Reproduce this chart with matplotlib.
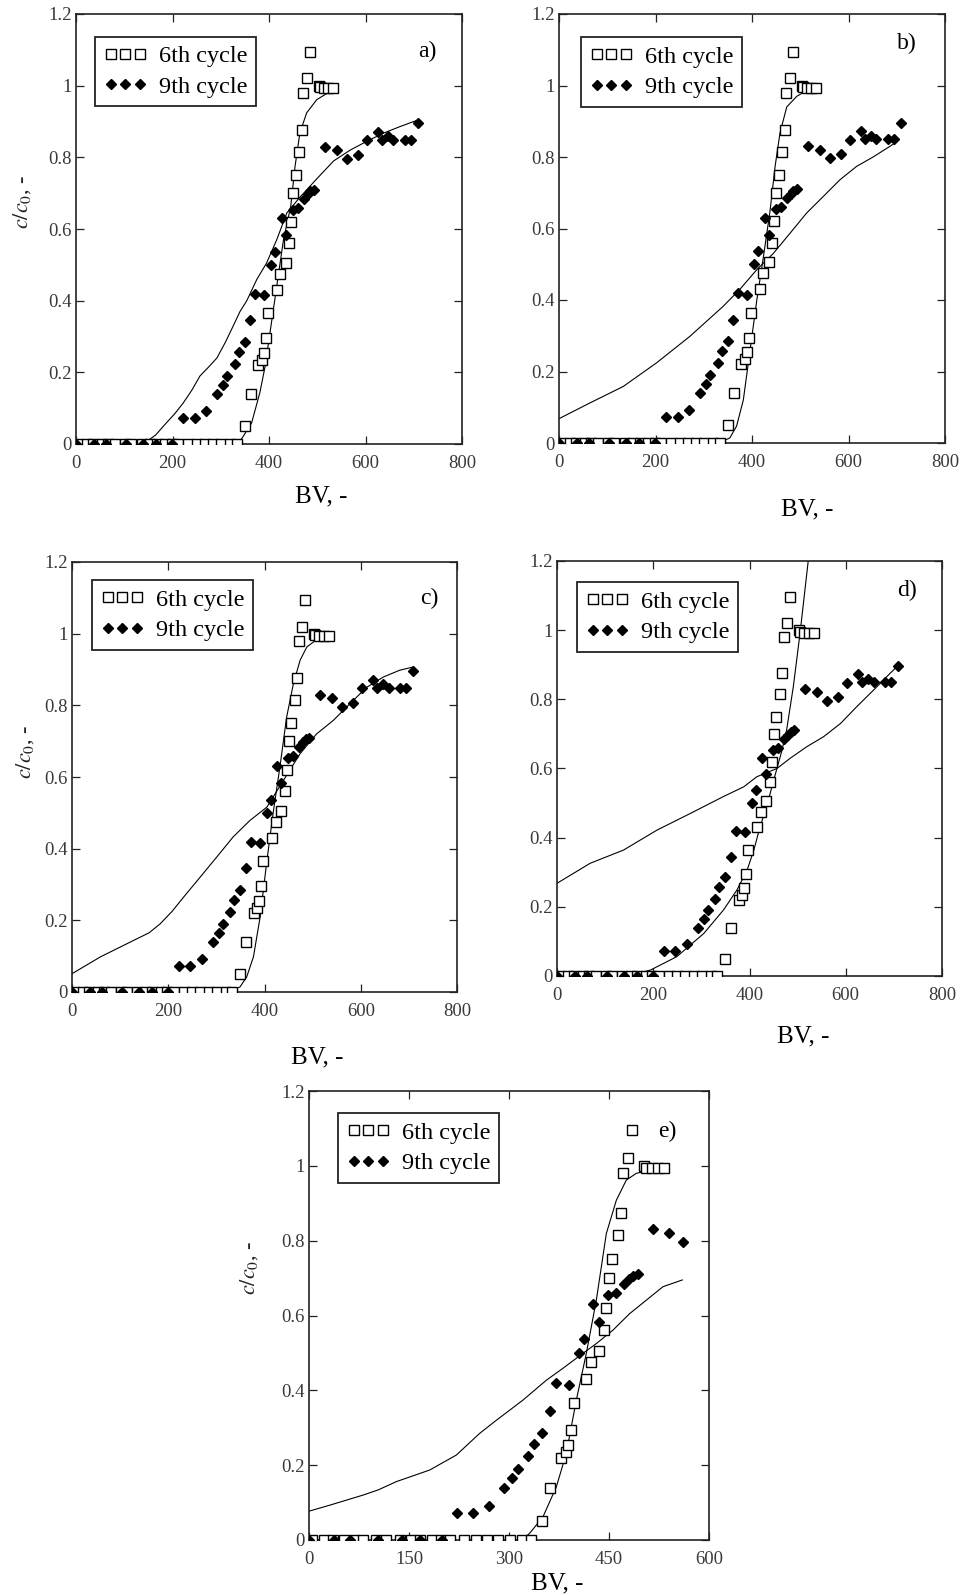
import numpy as np
import matplotlib
matplotlib.use("Agg")
import matplotlib.pyplot as plt
from matplotlib.lines import Line2D

plt.rcParams['font.family'] = ['Liberation Serif', 'DejaVu Serif']
plt.rcParams['mathtext.fontset'] = 'stix'

# ---------------- data (same measured points in every panel) ----------------
bv_6th = [5, 22, 36, 53, 67, 81, 101, 115, 136, 153, 167, 184, 198, 212, 233, 250, 267, 284, 301, 319, 333,
          350, 362, 378, 385, 389, 393, 397, 416, 423, 435, 442, 446, 450, 455, 463, 468, 471, 478, 485,
          503, 505, 514, 523, 533]
c_6th = [0] * 21 + [0.05, 0.14, 0.22, 0.235, 0.255, 0.295, 0.365, 0.43, 0.475, 0.505, 0.56, 0.62, 0.70, 0.75,
                    0.815, 0.875, 0.98, 1.02, 1.095, 1.0, 0.995, 0.993, 0.993, 0.993]

bv_9th = [0, 37, 62, 104, 139, 166, 199,
          222, 246, 270, 292, 305, 313, 329, 337, 350, 361, 371, 390, 405, 413, 426, 435, 449, 460, 472,
          480, 486, 493, 516, 540, 561, 584, 603, 626, 634, 646, 658, 682, 694, 708]
c_9th = [0] * 7 + [0.073, 0.073, 0.092, 0.14, 0.165, 0.19, 0.224, 0.256, 0.285, 0.345, 0.419, 0.415, 0.50,
                   0.537, 0.63, 0.583, 0.654, 0.659, 0.685, 0.697, 0.705, 0.71, 0.83, 0.82, 0.796, 0.807,
                   0.847, 0.872, 0.849, 0.86, 0.849, 0.849, 0.849, 0.895]

# ---------------- model curves ----------------
a6_x = [335, 346, 364, 381, 392, 402, 416, 430, 445, 454, 464, 478, 499, 522]
a6_y = [0.0, 0.02, 0.059, 0.143, 0.217, 0.31, 0.44, 0.57, 0.663, 0.775, 0.868, 0.924, 0.961, 0.98]
a9_x = [139, 165, 188, 205, 222, 240, 257, 275, 292, 310, 326, 340, 354, 375, 395, 416, 437, 465, 499,
        534, 568, 603, 638, 672, 706]
a9_y = [0.0, 0.025, 0.06, 0.085, 0.114, 0.15, 0.19, 0.215, 0.24, 0.285, 0.33, 0.37, 0.40, 0.46, 0.505,
        0.57, 0.645, 0.69, 0.74, 0.79, 0.82, 0.845, 0.868, 0.886, 0.903]

b6_x = [330, 354, 368, 382, 396, 410, 423, 437, 448, 458, 472, 493, 506]
b6_y = [0.0, 0.014, 0.047, 0.12, 0.26, 0.40, 0.515, 0.645, 0.775, 0.867, 0.94, 0.97, 0.98]
b9_x = [0, 64, 133, 202, 271, 340, 375, 410, 444, 479, 513, 548, 582, 617, 651, 686, 700]
b9_y = [0.068, 0.112, 0.158, 0.224, 0.298, 0.382, 0.43, 0.485, 0.53, 0.587, 0.643, 0.69, 0.736, 0.774,
        0.80, 0.83, 0.843]

c6_x = [320, 349, 363, 377, 391, 405, 418, 432, 446, 460, 474, 488, 505]
c6_y = [0.0, 0.014, 0.042, 0.098, 0.21, 0.367, 0.50, 0.628, 0.767, 0.86, 0.926, 0.963, 0.98]
c9_x = [0, 59, 128, 160, 183, 208, 232, 266, 301, 335, 370, 405, 439, 474, 508, 543, 578, 612, 647, 681, 709]
c9_y = [0.051, 0.098, 0.144, 0.165, 0.19, 0.225, 0.265, 0.32, 0.377, 0.433, 0.479, 0.516, 0.59, 0.665,
        0.72, 0.758, 0.805, 0.85, 0.879, 0.898, 0.907]

d6_x = [152, 194, 249, 305, 346, 374, 395, 409, 422, 436, 447, 457, 467, 477, 491, 505, 522]
d6_y = [0.003, 0.017, 0.056, 0.123, 0.191, 0.249, 0.306, 0.364, 0.432, 0.49, 0.55, 0.60, 0.65, 0.71,
        0.836, 0.991, 1.2]
d9_x = [0, 69, 138, 208, 277, 346, 388, 415, 457, 485, 519, 554, 589, 623, 658, 692, 703]
d9_y = [0.268, 0.326, 0.364, 0.422, 0.47, 0.519, 0.547, 0.576, 0.60, 0.63, 0.663, 0.692, 0.73, 0.779,
        0.827, 0.875, 0.89]

e6_x = [320, 331, 351, 371, 386, 401, 416, 431, 446, 461, 476, 491, 501]
e6_y = [0.0, 0.018, 0.062, 0.142, 0.232, 0.374, 0.499, 0.641, 0.819, 0.908, 0.962, 0.98, 0.984]
e9_x = [0, 31, 81, 104, 131, 181, 221, 256, 281, 321, 356, 381, 411, 431, 456, 481, 506, 531, 560]
e9_y = [0.077, 0.093, 0.12, 0.134, 0.156, 0.187, 0.227, 0.285, 0.32, 0.374, 0.427, 0.459, 0.499, 0.525,
        0.561, 0.605, 0.641, 0.677, 0.695]

e_data_max = 565   # panel e shows measured points only up to this BV

y_ticks = [0, 0.2, 0.4, 0.6, 0.8, 1.0, 1.2]
y_ticklabels = ["0", "0.2", "0.4", "0.6", "0.8", "1", "1.2"]
x_ticks_800 = [0, 200, 400, 600, 800]
x_ticks_600 = [0, 150, 300, 450, 600]
legend_labels = ["6th cycle", "9th cycle"]
panel_letters = ["a)", "b)", "c)", "d)", "e)"]

# ---------------- layout (pixels of a 976x1595 canvas) ----------------
W, H = 976, 1595
fig = plt.figure(figsize=(W / 100, H / 100), dpi=100)

panels = [
    dict(box=(76, 14, 462, 444), xmax=800, xt=x_ticks_800, c6=(a6_x, a6_y), c9=(a9_x, a9_y),
         leg=(0.049, 0.947), let=(0.909, 0.914), bv=(321, 496), yl=(22, 202)),
    dict(box=(559, 14, 945, 443), xmax=800, xt=x_ticks_800, c6=(b6_x, b6_y), c9=(b9_x, b9_y),
         leg=(0.057, 0.946), let=(0.902, 0.932), bv=(807, 509), yl=None),
    dict(box=(72, 562, 457, 992), xmax=800, xt=x_ticks_800, c6=(c6_x, c6_y), c9=(c9_x, c9_y),
         leg=(0.052, 0.958), let=(0.927, 0.916), bv=(317, 1057), yl=(25, 752)),
    dict(box=(557, 561, 942, 976), xmax=800, xt=x_ticks_800, c6=(d6_x, d6_y), c9=(d9_x, d9_y),
         leg=(0.052, 0.949), let=(0.909, 0.930), bv=(803, 1036), yl=None),
    dict(box=(309, 1091, 709, 1540), xmax=600, xt=x_ticks_600, c6=(e6_x, e6_y), c9=(e9_x, e9_y),
         leg=(0.0725, 0.951), let=(0.895, 0.911), bv=(557, 1583), yl=(249, 1268)),
]

tick_color = '#3a3a3a'

for i, p in enumerate(panels):
    l, t, r, b = p['box']
    ax = fig.add_axes([l / W, 1 - b / H, (r - l) / W, (b - t) / H])
    ax.set_xlim(0, p['xmax'])
    ax.set_ylim(0, 1.2)

    x6 = np.array(bv_6th); y6 = np.array(c_6th)
    x9 = np.array(bv_9th); y9 = np.array(c_9th)
    if p['xmax'] == 600:
        m6 = x6 <= e_data_max; m9 = x9 <= e_data_max
        x6, y6, x9, y9 = x6[m6], y6[m6], x9[m9], y9[m9]

    ax.plot(*p['c6'], color='black', lw=0.8, zorder=2)
    ax.plot(*p['c9'], color='black', lw=0.8, zorder=2)
    ax.plot(x6, y6, ls='none', marker='s', ms=7, mfc='white', mec='black', mew=1.0, zorder=3)
    ax.plot(x9, y9, ls='none', marker='D', ms=5.5, mfc='black', mec='black', zorder=4)

    ax.set_xticks(p['xt'])
    ax.set_xticklabels([str(v) for v in p['xt']])
    ax.set_yticks(y_ticks)
    ax.set_yticklabels(y_ticklabels)
    ax.tick_params(direction='in', length=6, width=0.9, top=True, right=True, color='#222',
                   labelsize=13.5, labelcolor=tick_color)
    ax.tick_params(axis='x', pad=8)
    ax.tick_params(axis='y', pad=3)
    for s in ax.spines.values():
        s.set_linewidth(1.2)
        s.set_color('#222')

    handles = [Line2D([], [], ls='none', marker='s', ms=7, mfc='white', mec='black', mew=1.0),
               Line2D([], [], ls='none', marker='D', ms=5.5, mfc='black', mec='black')]
    leg = ax.legend(handles, legend_labels, loc='upper left', bbox_to_anchor=p['leg'],
                    borderaxespad=0, numpoints=3, handlelength=1.8, handletextpad=0.5,
                    borderpad=0.35, labelspacing=0.35, fancybox=False, framealpha=1,
                    edgecolor='#222', prop={'family': 'Liberation Serif', 'size': 17.5})
    leg.get_frame().set_linewidth(1.3)

    ax.text(p['let'][0], p['let'][1], panel_letters[i], transform=ax.transAxes,
            ha='center', va='center', fontsize=17)

    fig.text(p['bv'][0] / W, 1 - p['bv'][1] / H, "BV, -", ha='center', va='center', fontsize=18)
    if p['yl'] is not None:
        fig.text(p['yl'][0] / W, 1 - p['yl'][1] / H, r"$c/c_0$, -", ha='center', va='center',
                 rotation=90, fontsize=16, color='#222')

fig.savefig("out.png", dpi=100)
